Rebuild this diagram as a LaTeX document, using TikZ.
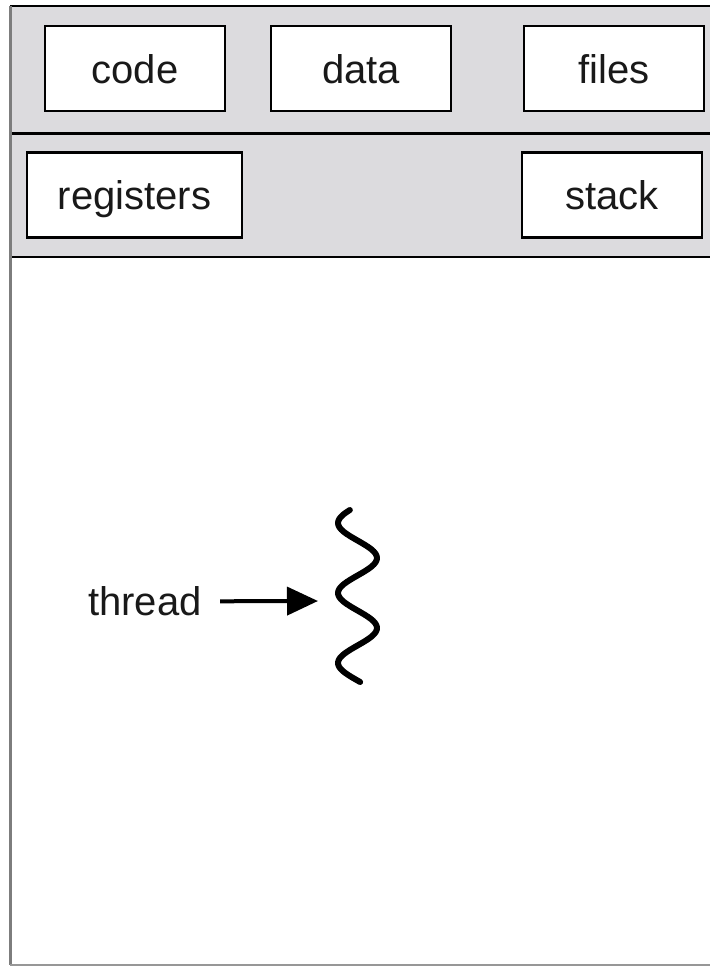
\documentclass[tikz,border=0pt]{standalone}
\usepackage{fontspec}
\setmainfont{Liberation Sans}
\usepackage{tikz}
\usetikzlibrary{arrows.meta,positioning}
\definecolor{bandgray}{RGB}{220,219,222}
\definecolor{framegray}{RGB}{125,125,125}

\begin{document}
\begin{tikzpicture}[x=1pt,y=-1pt,>={Triangle[length=31pt,width=28pt]},semithick,
  font=\fontsize{40}{48}\selectfont]
\tikzstyle{segment}=[draw=black,line width=2.5pt,fill=white,text=black!90,
  minimum width=180pt,minimum height=85pt,inner sep=0pt,
  text height=29pt,text depth=0pt]
\useasboundingbox (0,0) rectangle (710,966);
% shared part and per-thread part
\fill[bandgray] (10,6) rectangle (710,257);
\draw[line width=1.5pt] (10,6) -- (710,6);
\draw[line width=3pt] (10,133) -- (710,133);
\draw[line width=1.5pt] (10,257) -- (710,257);
\draw[framegray,line width=3pt] (10,6) -- (10,965);
\draw[framegray!80,line width=1.5pt] (10,965) -- (710,965);
\node[segment] (code) at (135,68.5) {code};
\node[segment][right=43.5pt of code] (data) {data};
\node[segment][right=70.5pt of data] (files) {files};
\node[segment,minimum width=215pt] (registers) at (134.5,195) {registers};
\node[segment] (stack) at (612,195) {stack};
% the thread
\draw[line width=6pt,line cap=round,line join=round]
  plot[domain=510:682,samples=80,variable=\t] ({357.5-19.5*cos(5.142857*(\t-523))},\t);
\coordinate (wave) at (318,601);
\node[text=black!90,inner xsep=18pt] (thread) at (145,601.5) {thread};
\draw[->,line width=4pt] (thread) -- (wave);
\end{tikzpicture}
\end{document}
